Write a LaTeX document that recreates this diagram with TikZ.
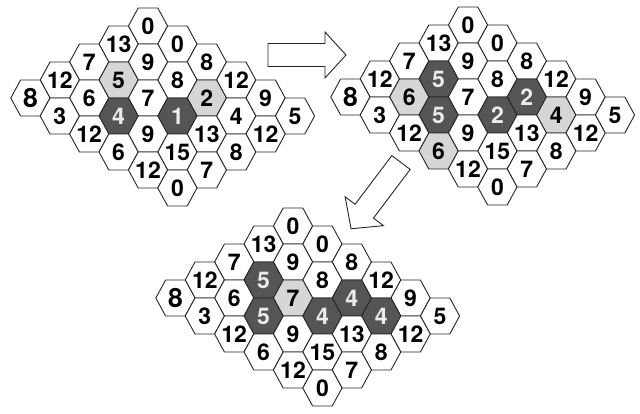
\documentclass[tikz,border=0pt]{standalone}
\usepackage{fontspec}
\setmainfont{TeX Gyre Heros}
\usepackage{xcolor}
\definecolor{cellDark}{HTML}{555555}
\definecolor{cellLight}{HTML}{D6D6D6}
\usepackage{tikz}
\usetikzlibrary{calc}

\newcommand{\hexboard}[4]{%
  \begin{scope}[shift={(#2,#3)}]
  \foreach \a/\b/\v/\c in {#4} {
    \pgfmathsetmacro{\cx}{(\a-\b)*29.4}
    \pgfmathsetmacro{\cy}{(\a+\b)*18}
    \draw[hex\c] (\cx,\cy) ++(-19.6,0) -- ++(9.8,-18) -- ++(19.6,0) -- ++(9.8,18) -- ++(-9.8,18) -- ++(-19.6,0) -- cycle;
    \node[num\c] (#1-\a-\b) at (\cx,\cy) {\v};
  }
  \end{scope}}

\begin{document}
\begin{tikzpicture}[x=1pt, y=-1pt,
  hexcell/.style={draw=black!85, line width=0.9pt, line join=round},
  hexw/.style={hexcell, fill=white},
  hexg/.style={hexcell, fill=cellLight},
  hexd/.style={hexcell, fill=cellDark},
  numw/.style={inner sep=0pt, font=\fontsize{23}{23}\selectfont\bfseries, text=black},
  numg/.style={numw},
  numd/.style={numw, text=white!92!black},
  numb/.style={numw, font=\fontsize{26.5}{26.5}\selectfont\bfseries},
  hexb/.style={hexw},
  blockarrow/.style={draw=black!85, line width=0.9pt, fill=white, line join=miter}]
\useasboundingbox (0,0) rectangle (640,413);

\hexboard{bA}{148}{26}{0/0/0/w, 1/0/0/w, 2/0/8/w, 3/0/12/w, 4/0/9/w, 5/0/5/w,
  0/1/13/w, 1/1/9/w, 2/1/8/w, 3/1/2/g, 4/1/4/w, 5/1/12/w,
  0/2/7/w, 1/2/5/g, 2/2/7/w, 3/2/1/d, 4/2/13/w, 5/2/8/w,
  0/3/12/w, 1/3/6/w, 2/3/4/d, 3/3/9/w, 4/3/15/w, 5/3/7/w,
  0/4/8/b, 1/4/3/w, 2/4/12/w, 3/4/6/w, 4/4/12/w, 5/4/0/w}

\hexboard{bB}{468}{25}{0/0/0/w, 1/0/0/w, 2/0/8/w, 3/0/12/w, 4/0/9/w, 5/0/5/w,
  0/1/13/w, 1/1/9/w, 2/1/8/w, 3/1/2/d, 4/1/4/g, 5/1/12/w,
  0/2/7/w, 1/2/5/d, 2/2/7/w, 3/2/2/d, 4/2/13/w, 5/2/8/w,
  0/3/12/w, 1/3/6/g, 2/3/5/d, 3/3/9/w, 4/3/15/w, 5/3/7/w,
  0/4/8/b, 1/4/3/w, 2/4/12/w, 3/4/6/g, 4/4/12/w, 5/4/0/w}

\hexboard{bC}{293}{226}{0/0/0/w, 1/0/0/w, 2/0/8/w, 3/0/12/w, 4/0/9/w, 5/0/5/w,
  0/1/13/w, 1/1/9/w, 2/1/8/w, 3/1/4/d, 4/1/4/d, 5/1/12/w,
  0/2/7/w, 1/2/5/d, 2/2/7/g, 3/2/4/d, 4/2/13/w, 5/2/8/w,
  0/3/12/w, 1/3/6/w, 2/3/5/d, 3/3/9/w, 4/3/15/w, 5/3/7/w,
  0/4/8/b, 1/4/3/w, 2/4/12/w, 3/4/6/w, 4/4/12/w, 5/4/0/w}

\coordinate (arrA) at (268,55);
\coordinate (arrB) at (401,162.5);
\draw[blockarrow, shift={(arrA)}] (0,-11.5) -- (57,-11.5) -- (57,-23) -- (78,0) -- (57,23) -- (57,11.5) -- (0,11.5) -- cycle;
\draw[blockarrow, shift={(arrB)}, rotate=233] (0,-11.5) -- (61,-11.5) -- (61,-24) -- (83,0) -- (61,24) -- (61,11.5) -- (0,11.5) -- cycle;
\end{tikzpicture}
\end{document}
